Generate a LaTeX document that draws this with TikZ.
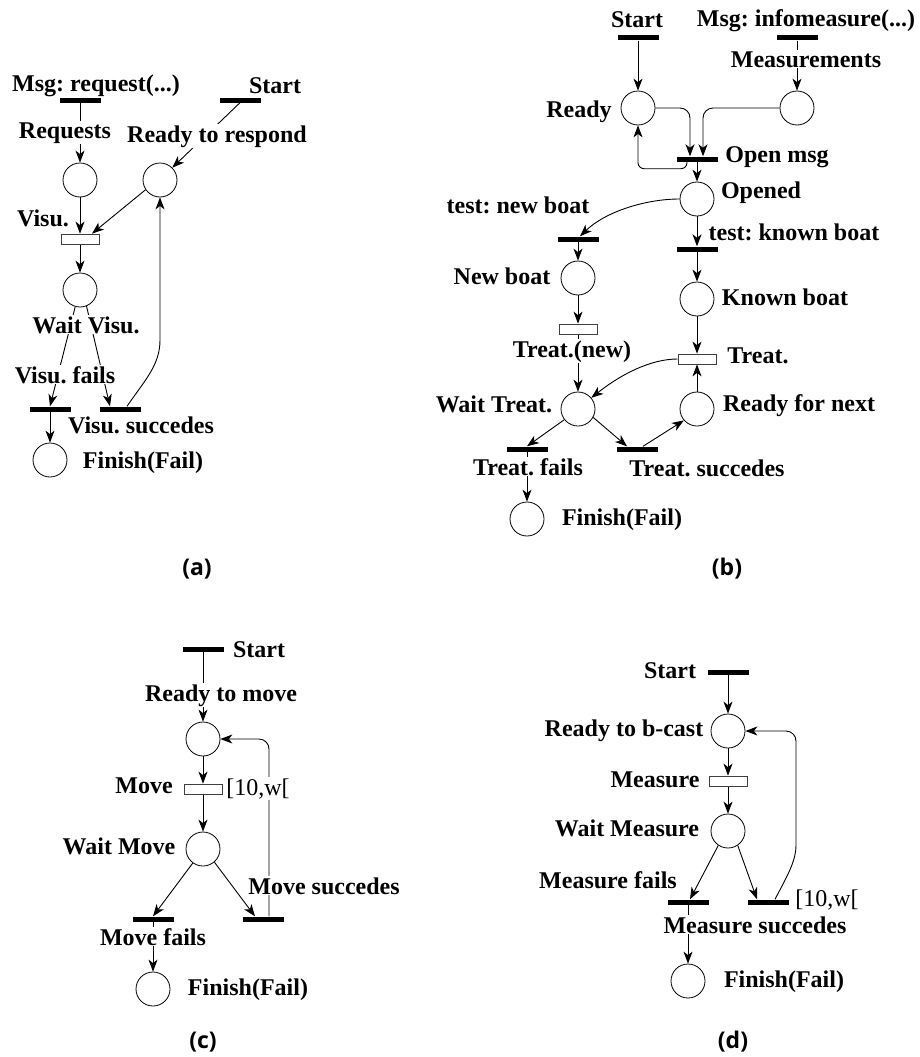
\documentclass[tikz,border=0pt]{standalone}
\usepackage{fontspec}
\setmainfont{Liberation Serif}
\newfontfamily\capfont{Open Sans}
\usepackage{tikz}
\usetikzlibrary{arrows.meta,calc}
\pgfdeclarelayer{back}
\pgfsetlayers{back,main}
\frenchspacing
\tikzset{
  place/.style={circle,draw,line width=0.8pt,fill=white,minimum size=34pt,inner sep=0pt},
  bar/.style={fill=black,minimum width=41pt,minimum height=5pt,inner sep=0pt},
  tbox/.style={draw=black!75,fill=white,line width=0.8pt,minimum width=38pt,minimum height=10pt,inner sep=0pt},
  arrow/.style={-{Stealth[length=12pt,width=9pt,inset=3.5pt]},line width=0.9pt},
  lbl/.style={font=\bfseries\fontsize{24}{26}\selectfont,fill=white,inner sep=1pt,anchor=base},
  tval/.style={font=\fontsize{24}{26}\selectfont,fill=white,inner sep=1pt,anchor=base},
  capt/.style={font=\capfont\bfseries\fontsize{23}{26}\selectfont,anchor=base}
}
\begin{document}
\begin{tikzpicture}[x=1pt,y=-1pt]
  \useasboundingbox (0,0) rectangle (920,1057);
  % (a)
  \node[lbl] (aMsgL) at (96,92) {Msg: request(...)};
  \node[lbl] (aStartL) at (275,93) {Start};
  \node[lbl] (aReqL) at (65,138) {Requests};
  \node[lbl] (aRdyL) at (217,142) {Ready to respond};
  \node[lbl] (aVisuL) at (43,226) {Visu.};
  \node[lbl] (aWaitL) at (86,333) {Wait Visu.};
  \node[lbl] (aFailL) at (65,383) {Visu. fails};
  \node[lbl] (aSuccL) at (141,433) {Visu. succedes};
  \node[lbl] (aFinL) at (143,468) {Finish(Fail)};
  \node[capt] (capA) at (197,575) {(a)};
  \node[bar] (aMsg) at (80,100) {};
  \node[bar] (aStart) at (240,100) {};
  \node[place] (aReq) at (80,180) {};
  \node[place] (aRdy) at (160,180) {};
  \node[tbox] (aVisu) at (80,239) {};
  \node[place] (aWait) at (80,290) {};
  \node[bar] (aFail) at (50,409) {};
  \node[bar] (aSucc) at (120,409) {};
  \node[place] (aFin) at (50,460) {};
  \coordinate (aBend) at (160,340);
  % (b)
  \node[lbl] (bStartL) at (637,28) {Start};
  \node[lbl] (bMsgL) at (806,27) {Msg: infomeasure(...)};
  \node[lbl] (bMeasL) at (806,67) {Measurements};
  \node[lbl] (bRdyL) at (579,117) {Ready};
  \node[lbl] (bOpenL) at (777,162) {Open msg};
  \node[lbl] (bOpdL) at (761,198) {Opened};
  \node[lbl] (bNewTL) at (518,213) {test: new boat};
  \node[lbl] (bKnTL) at (794,240) {test: known boat};
  \node[lbl] (bNewL) at (502,284) {New boat};
  \node[lbl] (bKnL) at (785,305) {Known boat};
  \node[lbl] (bTrNL) at (572,357) {Treat.(new)};
  \node[lbl] (bTrL) at (758,363) {Treat.};
  \node[lbl] (bWaitL) at (494,412) {Wait Treat.};
  \node[lbl] (bNextL) at (799,411) {Ready for next};
  \node[lbl] (bFailL) at (528,475) {Treat. fails};
  \node[lbl] (bSuccL) at (707,476) {Treat. succedes};
  \node[lbl] (bFinL) at (622,525) {Finish(Fail)};
  \node[capt] (capB) at (727,575) {(b)};
  \node[bar] (bStart) at (638,38) {};
  \node[bar] (bMsg) at (797,38) {};
  \node[place] (bRdy) at (638,108) {};
  \node[place] (bMeas) at (797,108) {};
  \node[bar] (bOpen) at (697,159) {};
  \node[place] (bOpd) at (697,199) {};
  \node[bar] (bNewT) at (578,239) {};
  \node[bar] (bKnT) at (697,249) {};
  \node[place] (bNew) at (578,278) {};
  \node[place] (bKn) at (697,299) {};
  \node[tbox] (bTrN) at (578,329) {};
  \node[tbox] (bTr) at (697,359) {};
  \node[place] (bWait) at (578,409) {};
  \node[place] (bNext) at (697,409) {};
  \node[bar] (bFail) at (527,449) {};
  \node[bar] (bSucc) at (637,449) {};
  \node[place] (bFin) at (527,519) {};
  % (c)
  \node[lbl] (cStartL) at (259,657) {Start};
  \node[lbl] (cRdyL) at (221,701) {Ready to move};
  \node[lbl] (cMoveL) at (144,793) {Move};
  \node[tval] (cTimeL) at (258,795) {[10,w[};
  \node[lbl] (cWaitL) at (119,854) {Wait Move};
  \node[lbl] (cSuccL) at (324,894) {Move succedes};
  \node[lbl] (cFailL) at (153,945) {Move fails};
  \node[lbl] (cFinL) at (248,995) {Finish(Fail)};
  \node[capt] (capC) at (203,1048) {(c)};
  \node[bar] (cStart) at (203,649) {};
  \node[place] (cRdy) at (203,739) {};
  \node[tbox] (cMove) at (203,789) {};
  \node[place] (cWait) at (203,849) {};
  \node[bar] (cFail) at (153,919) {};
  \node[bar] (cSucc) at (263,919) {};
  \node[place] (cFin) at (153,989) {};
  % (d)
  \node[lbl] (dStartL) at (670,678) {Start};
  \node[lbl] (dRdyL) at (624,736) {Ready to b-cast};
  \node[lbl] (dMeasL) at (655,787) {Measure};
  \node[lbl] (dWaitL) at (627,836) {Wait Measure};
  \node[lbl] (dFailL) at (608,888) {Measure fails};
  \node[tval] (dTimeL) at (827,906) {[10,w[};
  \node[lbl] (dSuccL) at (755,933) {Measure succedes};
  \node[lbl] (dFinL) at (784,987) {Finish(Fail)};
  \node[capt] (capD) at (733,1048) {(d)};
  \node[bar] (dStart) at (728,672) {};
  \node[place] (dRdy) at (728,731) {};
  \node[tbox] (dMeas) at (728,781) {};
  \node[place] (dWait) at (728,831) {};
  \node[bar] (dFail) at (688,902) {};
  \node[bar] (dSucc) at (768,902) {};
  \node[place] (dFin) at (688,981) {};
  \coordinate (dBend) at (796,845);
  \begin{pgfonlayer}{back}
    \draw[arrow] (aMsg) -- (aReq);
    \draw[arrow] (aStart.south) -- (aRdy.45);
    \draw[arrow] (aReq) -- (aVisu);
    \draw[arrow] (aRdy.214) -- ([xshift=12pt]aVisu.north);
    \draw[arrow] (aVisu) -- (aWait);
    \draw[arrow] (aWait.254) -- (aFail.north);
    \draw[arrow] (aWait.292) -- ([xshift=-10pt]aSucc.north);
    \draw[arrow] (aFail) -- (aFin);
    \draw[arrow] ([xshift=7pt]aSucc.north) .. controls (145,380) and (160,365) .. (aBend) -- (aRdy.south);
    \draw[arrow] (bStart) -- (bRdy);
    \draw[arrow] (bMsg) -- (bMeas);
    \draw[arrow,rounded corners=10pt] (bRdy.east) -| ([xshift=-7pt]bOpen.north);
    \draw[arrow,rounded corners=10pt] (bMeas.west) -| ([xshift=6pt]bOpen.north);
    \draw[arrow,rounded corners=6pt] ([xshift=-10pt]bOpen.south) -- ++(0,7) -| (bRdy.south);
    \draw[arrow] (bOpen) -- (bOpd);
    \draw[arrow] (bOpd.west) .. controls (645,199) and (605,212) .. ([xshift=2pt]bNewT.north);
    \draw[arrow] (bNewT) -- (bNew);
    \draw[arrow] (bOpd) -- (bKnT);
    \draw[arrow] (bKnT) -- (bKn);
    \draw[arrow] (bNew) -- (bTrN);
    \draw[arrow] (bTrN) -- (bWait);
    \draw[arrow] (bKn) -- (bTr);
    \draw[arrow] (bTr.west) .. controls (650,359) and (620,375) .. (bWait.40);
    \draw[arrow] (bNext) -- (bTr);
    \draw[arrow] (bWait.218) -- (bFail.north);
    \draw[arrow] (bWait.331) -- ([xshift=-10pt]bSucc.north);
    \draw[arrow] ([xshift=6pt]bSucc.north) -- (bNext.221);
    \draw[arrow] (bFail) -- (bFin);
    \draw[arrow] (cStart) -- (cRdy);
    \draw[arrow] (cRdy) -- (cMove);
    \draw[arrow] (cMove) -- (cWait);
    \draw[arrow] (cWait.234) -- (cFail.north);
    \draw[arrow] (cWait.311) -- ([xshift=-8pt]cSucc.north);
    \draw[arrow] (cFail) -- (cFin);
    \draw[arrow,rounded corners=10pt] ([xshift=6pt]cSucc.north) |- (cRdy.east);
    \draw[arrow] (dStart) -- (dRdy);
    \draw[arrow] (dRdy) -- (dMeas);
    \draw[arrow] (dMeas) -- (dWait);
    \draw[arrow] (dWait.236) -- ([xshift=2pt]dFail.north);
    \draw[arrow] (dWait.304) -- ([xshift=-11pt]dSucc.north);
    \draw[arrow] (dFail) -- (dFin);
    \draw[arrow] ([xshift=7pt]dSucc.north) .. controls (786,878) and (796,862) .. (dBend) [rounded corners=10pt] |- (dRdy.east);
  \end{pgfonlayer}
\end{tikzpicture}
\end{document}
